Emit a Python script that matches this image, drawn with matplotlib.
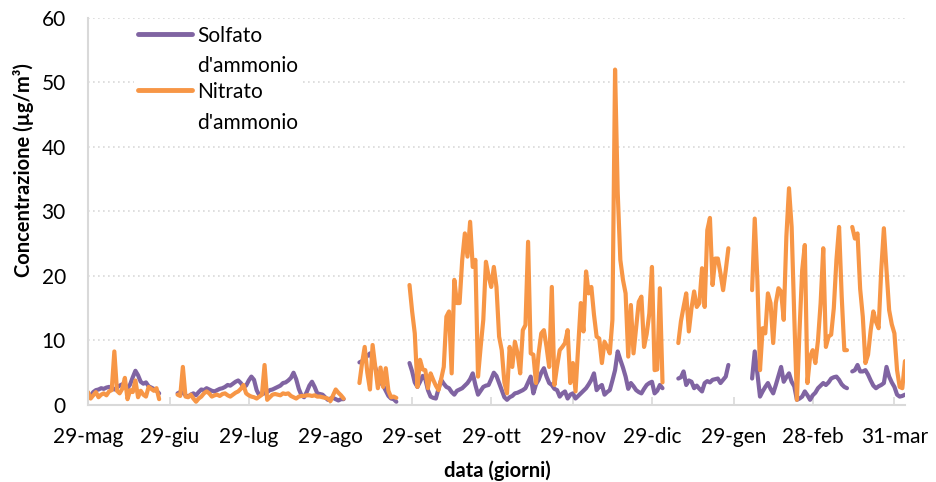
import numpy as np
import pandas as pd
import matplotlib
matplotlib.use('Agg')
import matplotlib.pyplot as plt
from matplotlib.legend_handler import HandlerLine2D

plt.rcParams['font.family'] = ['Lato', 'DejaVu Sans']

# daily sampling campaign, split into the periods with valid data
segment_starts = ['2017-05-29', '2017-07-02', '2017-09-09', '2017-09-28',
                  '2018-01-08', '2018-02-05', '2018-03-15']

solfato = [
    [1.6, 1.4, 2.0, 2.3, 2.4, 2.6, 2.5, 2.7, 2.8, 2.6, 2.4, 2.7, 3.0, 3.2,
     2.9, 2.6, 3.2, 4.3, 5.3, 4.6, 3.6, 3.3, 3.5, 2.9, 2.7, 2.5, 2.2, 1.8],
    [1.8, 2.0, 1.9, 1.5, 1.3, 1.6, 1.8, 1.5, 2.0, 2.4, 2.3, 2.6, 2.4, 2.2,
     2.1, 2.3, 2.5, 2.6, 2.8, 3.1, 3.0, 3.3, 3.6, 3.8, 3.4, 2.8, 3.0, 3.8,
     4.4, 3.9, 2.3, 1.5, 1.7, 1.8, 2.0, 2.3, 2.4, 2.6, 2.8, 3.0, 3.4, 3.5,
     3.8, 4.2, 5.0, 4.0, 2.5, 1.5, 1.2, 2.0, 3.0, 3.6, 2.8, 1.8, 1.7, 1.6,
     1.2, 0.8, 1.0, 1.1, 0.9, 0.7, 0.9, 0.9],
    [6.6, 6.8, 7.2, 7.6, 8.0, 7.0, 5.8, 4.5, 3.5, 3.0, 2.2, 1.4, 1.0, 0.9, 0.5],
    [6.5, 5.2, 3.5, 2.8, 3.6, 4.5, 4.0, 2.3, 1.3, 1.1, 1.0, 2.5, 3.9, 3.3,
     2.8, 2.6, 2.0, 1.6, 2.2, 2.4, 2.6, 3.0, 3.4, 4.0, 4.9, 3.1, 1.6, 2.2,
     2.8, 3.0, 3.1, 4.0, 5.0, 4.5, 3.4, 2.3, 1.2, 0.8, 1.2, 1.4, 1.8, 1.9,
     2.1, 2.3, 2.6, 3.5, 4.4, 1.8, 3.2, 3.9, 5.0, 5.7, 4.4, 3.4, 3.1, 2.5,
     2.3, 1.3, 1.8, 2.1, 1.0, 1.6, 1.8, 1.0, 1.4, 1.8, 2.2, 2.6, 3.2, 3.9,
     4.9, 2.3, 2.8, 3.1, 1.6, 2.0, 2.3, 3.8, 5.4, 8.3, 7.0, 5.8, 4.4, 2.5,
     3.4, 2.9, 2.3, 2.0, 1.8, 2.5, 3.1, 3.4, 3.6, 1.8, 2.2, 3.1, 2.6],
    [4.1, 4.3, 5.2, 3.1, 3.8, 3.6, 2.6, 3.0, 2.5, 2.1, 3.4, 3.7, 3.5, 3.9,
     4.0, 4.1, 3.4, 3.9, 4.4, 6.2],
    [4.1, 8.3, 4.9, 1.3, 2.1, 2.8, 3.4, 2.5, 1.8, 3.1, 4.5, 5.9, 3.6, 4.3,
     4.9, 3.6, 2.9, 0.8, 1.0, 1.3, 2.1, 1.5, 0.8, 1.5, 1.9, 2.6, 3.0, 3.4,
     3.1, 3.5, 4.1, 4.3, 4.4, 3.9, 3.2, 2.8, 2.6],
    [5.2, 5.4, 6.2, 5.2, 5.2, 5.4, 4.7, 3.8, 3.0, 2.6, 2.9, 3.1, 3.4, 5.9,
     4.4, 3.5, 2.8, 1.6, 1.3, 1.4, 1.6],
]

nitrato = [
    [2.0, 1.0, 1.5, 2.0, 1.2, 1.6, 1.8, 1.5, 2.1, 2.3, 8.3, 2.2, 1.8, 2.5,
     4.2, 0.9, 2.3, 2.0, 3.8, 1.2, 2.2, 1.6, 1.3, 2.8, 2.5, 2.2, 2.6, 0.9],
    [1.6, 1.4, 5.9, 1.3, 1.2, 1.6, 1.0, 0.5, 1.0, 1.3, 1.8, 2.1, 1.8, 1.3,
     1.5, 1.6, 1.4, 1.7, 1.8, 1.5, 1.3, 1.6, 1.9, 2.1, 2.5, 3.1, 1.8, 1.5,
     1.3, 1.2, 1.0, 1.3, 1.6, 6.2, 0.8, 1.2, 1.6, 1.7, 1.6, 1.5, 1.8, 1.7,
     1.8, 1.4, 1.2, 1.0, 1.3, 1.4, 1.4, 1.5, 1.5, 1.4, 1.5, 1.3, 1.3, 1.2,
     1.1, 1.0, 0.6, 1.5, 2.4, 1.9, 1.5, 1.0],
    [3.4, 6.5, 9.0, 5.0, 2.4, 9.3, 6.0, 2.6, 5.8, 2.8, 5.7, 2.2, 1.2, 1.3, 1.1],
    [18.6, 14.5, 11.1, 2.8, 7.0, 5.5, 5.4, 2.6, 4.9, 3.9, 3.0, 2.3, 4.0, 5.9,
     13.7, 14.5, 4.9, 19.4, 15.8, 15.8, 22.5, 26.6, 23.0, 28.4, 21.4, 22.5,
     4.4, 9.0, 13.2, 22.2, 20.0, 18.3, 21.4, 18.3, 10.6, 8.5, 3.5, 1.8, 9.0,
     5.9, 9.8, 8.0, 4.9, 11.6, 12.4, 25.3, 8.0, 7.8, 3.4, 8.0, 11.1, 11.6,
     9.0, 5.9, 18.3, 3.1, 6.0, 8.5, 9.0, 9.6, 11.6, 3.4, 6.5, 2.1, 9.0, 15.8,
     11.4, 20.7, 17.3, 18.3, 14.0, 10.6, 10.3, 6.5, 9.8, 9.0, 8.0, 13.2,
     52.0, 33.0, 22.5, 19.4, 17.3, 7.5, 15.5, 8.0, 12.0, 16.0, 16.8, 9.0,
     11.0, 14.2, 21.4, 5.4, 5.5, 18.1, 3.5],
    [9.6, 13.0, 15.2, 17.3, 11.4, 15.0, 17.6, 15.2, 15.8, 21.2, 15.2, 27.1,
     29.0, 18.6, 22.7, 22.7, 20.4, 17.8, 20.9, 24.3],
    [17.8, 28.9, 19.4, 5.4, 11.9, 11.1, 17.3, 15.8, 9.6, 15.8, 18.1, 17.6,
     13.2, 26.1, 33.6, 27.6, 13.7, 0.8, 11.6, 20.9, 24.8, 3.4, 7.5, 8.5, 6.5,
     10.0, 15.8, 24.3, 9.0, 10.6, 10.9, 15.0, 22.5, 27.6, 16.8, 8.5, 8.5],
    [27.6, 25.8, 26.6, 18.0, 13.7, 6.5, 7.8, 11.6, 14.5, 12.9, 11.9, 20.9,
     27.4, 20.9, 14.7, 12.5, 11.1, 5.4, 2.8, 2.6, 6.8],
]

tick_dates = ['2017-05-29', '2017-06-29', '2017-07-29', '2017-08-29',
              '2017-09-29', '2017-10-29', '2017-11-29', '2017-12-29',
              '2018-01-29', '2018-02-28', '2018-03-31']
tick_labels = ['29-mag', '29-giu', '29-lug', '29-ago', '29-set', '29-ott',
               '29-nov', '29-dic', '29-gen', '28-feb', '31-mar']

days = pd.date_range('2017-05-29', '2018-04-04', freq='D')


def daily_series(segments):
    # put each period on the daily calendar, leaving gaps as NaN
    s = pd.Series(np.nan, index=days)
    for start, vals in zip(segment_starts, segments):
        idx = pd.date_range(start, periods=len(vals), freq='D')
        s.loc[idx] = vals
    return s


s_solf = daily_series(solfato)
s_nitr = daily_series(nitrato)

purple = '#8064A2'
orange = '#F79646'
grid_col = '#D9D9D9'


class FirstLineHandler(HandlerLine2D):
    # keep the legend line level with the first row of a wrapped label
    def create_artists(self, legend, orig_handle, xdescent, ydescent,
                       width, height, fontsize, trans):
        arts = super().create_artists(legend, orig_handle, xdescent, ydescent,
                                      width, height, fontsize, trans)
        for a in arts:
            a.set_ydata(np.asarray(a.get_ydata()) + 0.85 * fontsize)
        return arts


fig = plt.figure(figsize=(9.37, 4.82), dpi=100)
ax = fig.add_axes([0.0939, 0.1598, 0.8719, 0.8029])

ax.plot(s_solf.index, s_solf.values, color=purple, lw=3,
        solid_capstyle='round', label="Solfato\nd'ammonio")
ax.plot(s_nitr.index, s_nitr.values, color=orange, lw=3,
        solid_capstyle='round', label="Nitrato\nd'ammonio")

ax.set_xlim(days[0], days[-1])
ax.set_ylim(0, 60)
ax.set_yticks(range(0, 61, 10))
ax.set_xticks(pd.to_datetime(tick_dates))
ax.set_xticklabels(tick_labels)

ax.grid(axis='y', linestyle=(0, (1, 2)), color=grid_col, lw=1.2)
ax.set_axisbelow(True)
for side in ['top', 'right']:
    ax.spines[side].set_visible(False)
for side in ['left', 'bottom']:
    ax.spines[side].set_color(grid_col)
    ax.spines[side].set_linewidth(1.5)

ax.tick_params(axis='y', length=0, labelsize=15, pad=16)
ax.tick_params(axis='x', direction='in', length=6, width=1.2, color=grid_col,
               labelsize=15, pad=16)

ax.set_ylabel('Concentrazione (µg/m³)', fontsize=14.5, fontweight='bold')
ax.set_xlabel('data (giorni)', fontsize=14.5, fontweight='bold')
ax.yaxis.set_label_coords(-0.066, 0.607)
ax.xaxis.set_label_coords(0.5006, -0.143)

leg = ax.legend(loc='upper left', bbox_to_anchor=(0.043, 1.018), fontsize=15,
                frameon=True, facecolor='white', edgecolor='none',
                framealpha=1, handlelength=2.6, handletextpad=0.25,
                labelspacing=0.3, borderpad=0.2,
                handler_map={plt.Line2D: FirstLineHandler()})
for t in leg.get_texts():
    t.set_linespacing(1.65)
for ln in leg.get_lines():
    ln.set_linewidth(3.5)

fig.savefig('out.png', dpi=100)
